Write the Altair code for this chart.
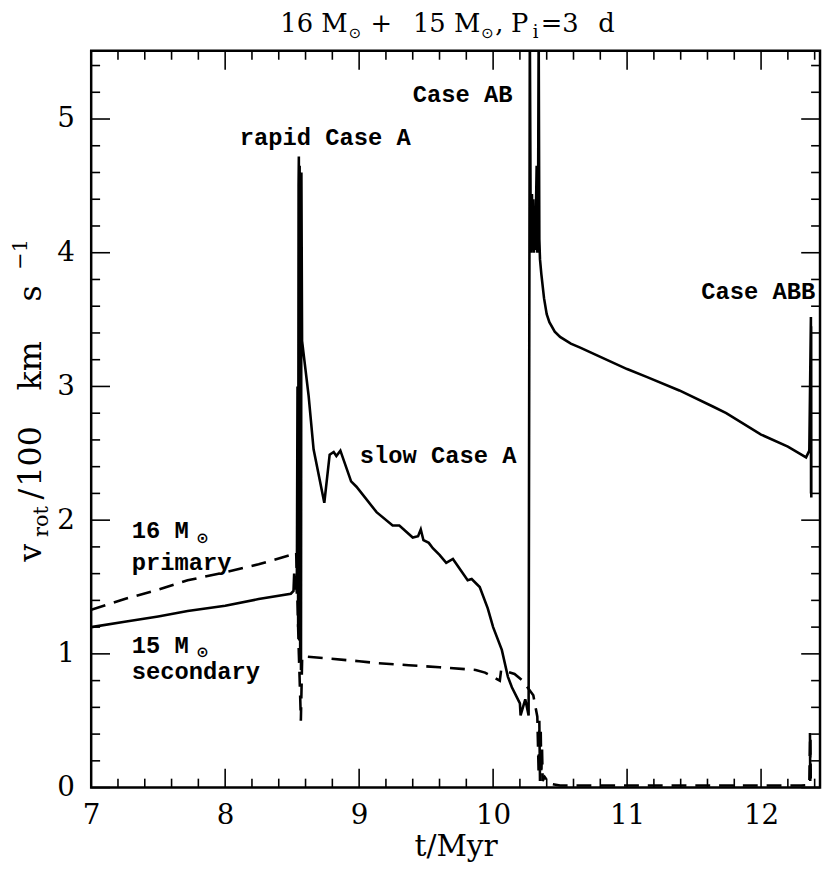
import altair as alt
import pandas as pd

# ---------------- data ----------------
# 15 Msun secondary (solid)
sec_t = [7.0, 7.25, 7.5, 7.72, 8.0, 8.25, 8.49, 8.51, 8.515, 8.52, 8.53, 8.535,
         8.54, 8.545, 8.548, 8.55, 8.553, 8.556, 8.56, 8.563, 8.566, 8.569, 8.574,
         8.623, 8.66, 8.74, 8.78, 8.81, 8.83, 8.86, 8.94, 8.98, 9.13, 9.25, 9.30,
         9.40, 9.44, 9.46, 9.48, 9.52, 9.55, 9.60, 9.65, 9.70, 9.81, 9.84, 9.90,
         9.96, 10.0, 10.065, 10.11, 10.14, 10.20, 10.205, 10.24, 10.265, 10.274,
         10.28, 10.285, 10.29, 10.295, 10.30, 10.305, 10.31, 10.315, 10.32, 10.325,
         10.33, 10.335, 10.34, 10.345, 10.35, 10.36, 10.38, 10.40, 10.42, 10.46,
         10.50, 10.58, 10.65, 10.78, 11.0, 11.15, 11.39, 11.64, 11.74, 12.0, 12.2,
         12.336, 12.36, 12.372, 12.373, 12.374, 12.375]
sec_v = [1.20, 1.24, 1.28, 1.32, 1.36, 1.41, 1.45, 1.47, 1.60, 1.48, 1.58, 1.45,
         3.0, 1.2, 4.5, 4.72, 1.1, 4.65, 0.95, 4.4, 0.88, 4.6, 3.34,
         2.93, 2.53, 2.13, 2.49, 2.51, 2.48, 2.52, 2.29, 2.25, 2.06, 1.96, 1.96,
         1.87, 1.88, 1.93, 1.85, 1.83, 1.79, 1.74, 1.68, 1.71, 1.55, 1.56, 1.50,
         1.34, 1.20, 1.03, 0.83, 0.75, 0.63, 0.54, 0.66, 0.54, 5.7,
         4.3, 4.0, 4.44, 4.05, 4.40, 4.0, 4.3, 4.02, 4.35, 4.65,
         4.0, 4.2, 5.7, 4.1, 3.95, 3.84, 3.66, 3.54, 3.48, 3.41,
         3.37, 3.32, 3.29, 3.23, 3.13, 3.07, 2.97, 2.85, 2.80, 2.64, 2.55,
         2.47, 2.52, 3.52, 2.2, 3.45, 2.17]

# 16 Msun primary (dashed)
pri_t = [7.0, 7.25, 7.5, 7.72, 8.0, 8.25, 8.49, 8.53, 8.55, 8.56, 8.565, 8.575,
         8.6, 9.0, 9.14, 9.37, 9.6, 9.87, 9.94, 10.05, 10.06, 10.16, 10.22, 10.30,
         10.33, 10.34, 10.345, 10.35, 10.355, 10.36, 10.365, 10.37, 10.385, 10.42,
         10.5, 11.0, 11.5, 12.0, 12.3, 12.36, 12.365, 12.367, 12.369, 12.371, 12.373]
pri_v = [1.33, 1.41, 1.48, 1.55, 1.61, 1.67, 1.74, 1.76, 1.0, 0.68, 0.50, 0.98,
         0.98, 0.945, 0.93, 0.915, 0.90, 0.88, 0.86, 0.80, 0.88, 0.85, 0.80, 0.69,
         0.53, 0.1, 0.5, 0.05, 0.45, 0.1, 0.3, 0.05, 0.08, 0.03,
         0.015, 0.015, 0.015, 0.015, 0.015, 0.02, 0.41, 0.05, 0.38, 0.03, 0.02]

x_major = [7, 8, 9, 10, 11, 12]
x_minor = [7.2, 7.4, 7.6, 7.8, 8.2, 8.4, 8.6, 8.8, 9.2, 9.4, 9.6, 9.8, 10.2, 10.4,
           10.6, 10.8, 11.2, 11.4, 11.6, 11.8, 12.2, 12.4]
y_major = [0, 1, 2, 3, 4, 5]
y_minor = [0.2, 0.4, 0.6, 0.8, 1.2, 1.4, 1.6, 1.8, 2.2, 2.4, 2.6, 2.8, 3.2, 3.4,
           3.6, 3.8, 4.2, 4.4, 4.6, 4.8, 5.2, 5.4]

# annotation texts
ann_labels = ["rapid Case A", "Case AB", "slow Case A", "Case ABB",
              "16 M", "primary", "15 M", "secondary"]
ann_t = [8.109, 9.40, 9.005, 11.553, 7.303, 7.303, 7.303, 7.303]
ann_v = [4.809, 5.13, 2.429, 3.651, 1.864, 1.624, 1.007, 0.809]

sun_labels = ["\u2299", "\u2299"]
sun_t = [7.785, 7.785]
sun_v = [1.83, 0.975]

title_labels = ["16 M", "+", "15 M", ",", "P", "=3", "d"]
title_t = [8.412, 9.084, 9.402, 10.016, 10.134, 10.356, 10.784]
title_v = [5.651] * 7
title_sub_labels = ["\u2299", "\u2299"]
title_sub_t = [8.922, 9.912]
title_sub_v = [5.606, 5.606]
title_i_labels = ["i"]
title_i_t = [10.296]
title_i_v = [5.606]

ytitle_main_labels = ["v", "/", "100", "km", "s"]
ytitle_main_t = [6.623, 6.623, 6.623, 6.623, 6.623]
ytitle_main_v = [1.689, 2.155, 2.251, 2.970, 3.636]
ytitle_sub_labels = ["rot"]
ytitle_sub_t = [6.675]
ytitle_sub_v = [1.874]
ytitle_sup_labels = ["\u22121"]
ytitle_sup_t = [6.520]
ytitle_sup_v = [3.873]

# ---------------- chart ----------------
W, H = 736, 744
xs = alt.Scale(domain=[7, 12.44], nice=False, zero=False)
ys = alt.Scale(domain=[0, 5.51], nice=False, zero=False)
SERIF = "DejaVu Serif"
MONO = "Liberation Mono"

xaxis = alt.Axis(values=x_major, ticks=False, tickSize=0, domain=False, grid=False,
                 labelFont=SERIF, labelFontSize=28, labelColor="black",
                 labelPadding=14, labelFlush=False, labelOverlap=False, format="d",
                 title="t/Myr", titleFont=SERIF, titleFontSize=30,
                 titleFontWeight="normal", titleColor="black", titlePadding=3)
yaxis = alt.Axis(values=y_major, ticks=False, tickSize=0, domain=False, grid=False,
                 labelFont=SERIF, labelFontSize=28, labelColor="black",
                 labelPadding=17, labelFlush=False, labelOverlap=False, format="d",
                 title=None)


def X(field="t"):
    return alt.X(field + ":Q", scale=xs, axis=xaxis)


def Y(field="v"):
    return alt.Y(field + ":Q", scale=ys, axis=yaxis)


sec = pd.DataFrame({"t": sec_t, "v": sec_v, "i": list(range(len(sec_t)))})
pri = pd.DataFrame({"t": pri_t, "v": pri_v, "i": list(range(len(pri_t)))})

line_sec = alt.Chart(sec).mark_line(color="black", strokeWidth=2.6, clip=True).encode(
    x=X(), y=Y(), order="i:Q")
line_pri = alt.Chart(pri).mark_line(color="black", strokeWidth=2.6, clip=True,
                                    strokeDash=[15, 9]).encode(
    x=X(), y=Y(), order="i:Q")


def xticks(vals, length):
    df = pd.DataFrame({"t": vals})
    base = alt.Chart(df).mark_rule(color="black", strokeWidth=1.6)
    bottom = base.encode(x=X(), y=alt.value(H), y2=alt.value(H - length))
    top = base.encode(x=X(), y=alt.value(0), y2=alt.value(length))
    return [bottom, top]


def yticks(vals, length):
    df = pd.DataFrame({"v": vals})
    base = alt.Chart(df).mark_rule(color="black", strokeWidth=1.6)
    left = base.encode(y=Y(), x=alt.value(0), x2=alt.value(length))
    right = base.encode(y=Y(), x=alt.value(W), x2=alt.value(W - length))
    return [left, right]


def texts(labels, ts, vs, font, size, weight="normal", angle=0):
    df = pd.DataFrame({"label": labels, "t": ts, "v": vs})
    props = dict(align="left", baseline="alphabetic", font=font, fontSize=size,
                 fontWeight=weight, color="black")
    if angle:
        props["angle"] = angle
    return alt.Chart(df).mark_text(**props).encode(x=X(), y=Y(), text="label:N")


layers = [line_sec, line_pri]
layers += xticks(x_major, 19) + xticks(x_minor, 9)
layers += yticks(y_major, 19) + yticks(y_minor, 9)
layers += [texts(ann_labels, ann_t, ann_v, MONO, 24, "bold"),
           texts(sun_labels, sun_t, sun_v, "DejaVu Sans", 15, "bold"),
           texts(title_labels, title_t, title_v, SERIF, 26),
           texts(title_sub_labels, title_sub_t, title_sub_v, "DejaVu Sans", 15),
           texts(title_i_labels, title_i_t, title_i_v, SERIF, 18),
           texts(ytitle_main_labels, ytitle_main_t, ytitle_main_v, SERIF, 32, angle=270),
           texts(ytitle_sub_labels, ytitle_sub_t, ytitle_sub_v, SERIF, 21, angle=270),
           texts(ytitle_sup_labels, ytitle_sup_t, ytitle_sup_v, SERIF, 21, angle=270)]

chart = alt.layer(*layers).properties(
    width=W, height=H,
    autosize=alt.AutoSizeParams(type="none"),
    padding={"left": 84, "top": 39, "right": 2, "bottom": 80},
    background="white",
).configure_view(stroke="black", strokeWidth=2.5)

chart.save("out.html", embed_options={"renderer": "svg", "actions": False})
